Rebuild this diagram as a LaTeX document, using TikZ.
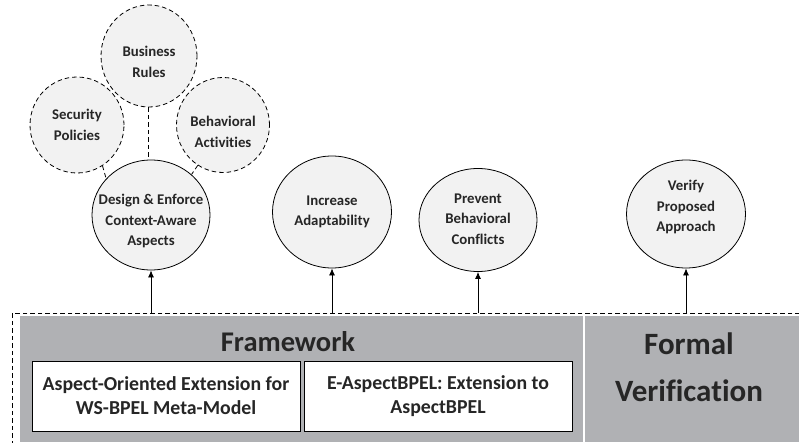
\documentclass[tikz,border=0pt]{standalone}
\usepackage{fontspec}
\setmainfont{Carlito}[Ligatures={NoCommon}]
\usetikzlibrary{shapes.geometric,arrows.meta}
\definecolor{txt}{RGB}{38,38,38}
\definecolor{band}{RGB}{176,177,180}
\definecolor{cfill}{RGB}{242,242,242}
\tikzset{
  goal/.style={ellipse,draw=black,line width=0.8pt,fill=cfill,inner sep=0pt},
  aspect/.style={goal,dash pattern=on 4.5pt off 3pt},
  gtext/.style={align=center,text=txt,inner sep=0pt,font=\bfseries\fontsize{14.8}{20.5}\selectfont},
  bandbox/.style={rectangle,fill=band,inner sep=0pt},
  whitebox/.style={rectangle,draw=black,line width=0.7pt,fill=white,inner sep=0pt,align=center,text=txt,
    minimum width=268pt,minimum height=70pt,font=\bfseries\fontsize{19.8}{24}\selectfont},
  bigtitle/.style={align=center,text=txt,inner sep=0pt},
  up/.style={-{Latex[length=7pt,width=6pt]},line width=0.8pt},
  link/.style={dash pattern=on 4.5pt off 3pt,line width=0.8pt}
}
\begin{document}
\begin{tikzpicture}[x=1pt,y=-1pt]
\useasboundingbox (0,0) rectangle (799,443);
\clip (0,0) rectangle (799,443);
% outer dashed frame
\node[rectangle,draw=black,dash pattern=on 4.5pt off 3pt,line width=0.6pt,minimum width=820pt,minimum height=160pt,anchor=north west,inner sep=0pt] (outer) at (12,313) {};
% bands
\node[bandbox,minimum width=563pt,minimum height=126pt] (fwband) at (301.5,379) {};
\node[bandbox,minimum width=214pt,minimum height=126pt] (fvband) at (692,379) {};
\node[bigtitle,font=\bfseries\fontsize{28.5}{47}\selectfont] (fwtitle) at (288,342) {Framework};
\node[bigtitle,font=\bfseries\fontsize{31}{47}\selectfont] (fvtitle) at (689,367) {Formal\\Verification};
% boxes
\node[whitebox] (box1) at (166,396) {Aspect-Oriented Extension for\\WS-BPEL Meta-Model};
\node[whitebox] (box2) at (438,396.5) {E-AspectBPEL: Extension to\\AspectBPEL};
% goals
\node[goal,minimum width=118pt,minimum height=110pt] (design) at (151,215) {};
\node[goal,minimum width=119pt,minimum height=112pt] (adapt) at (332,212) {};
\node[goal,minimum width=118pt,minimum height=103pt] (prevent) at (478,220) {};
\node[goal,minimum width=119pt,minimum height=108pt] (verify) at (686,214) {};
\node[gtext] (designt) at (151,221) {Design \& Enforce\\Context-Aware\\Aspects};
\node[gtext] (adaptt) at (332,212) {Increase\\Adaptability};
\node[gtext] (preventt) at (478,219) {Prevent\\Behavioral\\Conflicts};
\node[gtext] (verifyt) at (686,207) {Verify\\Proposed\\Approach};
% aspects
\node[aspect,minimum width=96pt,minimum height=102pt] (rules) at (149,56) {};
\node[aspect,minimum width=94pt,minimum height=96pt] (security) at (77,125) {};
\node[aspect,minimum width=93pt,minimum height=95pt] (behav) at (223,125) {};
\node[gtext] (rulest) at (149,62) {Business\\Rules};
\node[gtext] (securityt) at (77,125) {Security\\Policies};
\node[gtext] (behavt) at (223,132) {Behavioral\\Activities};
% dashed links
\draw[link] (rules.south -| 148,0) -- (design.north -| 148,0);
\draw[link] (security.-58) -- (design.141);
\draw[link] (behav.-122) -- (design.45);
% arrows
\draw[up] (outer.north -| design.south) -- (design.south);
\draw[up] (outer.north -| adapt.south) -- (adapt.south);
\draw[up] (outer.north -| prevent.south) -- (prevent.south);
\draw[up] (outer.north -| verify.south) -- (verify.south);
\end{tikzpicture}
\end{document}
